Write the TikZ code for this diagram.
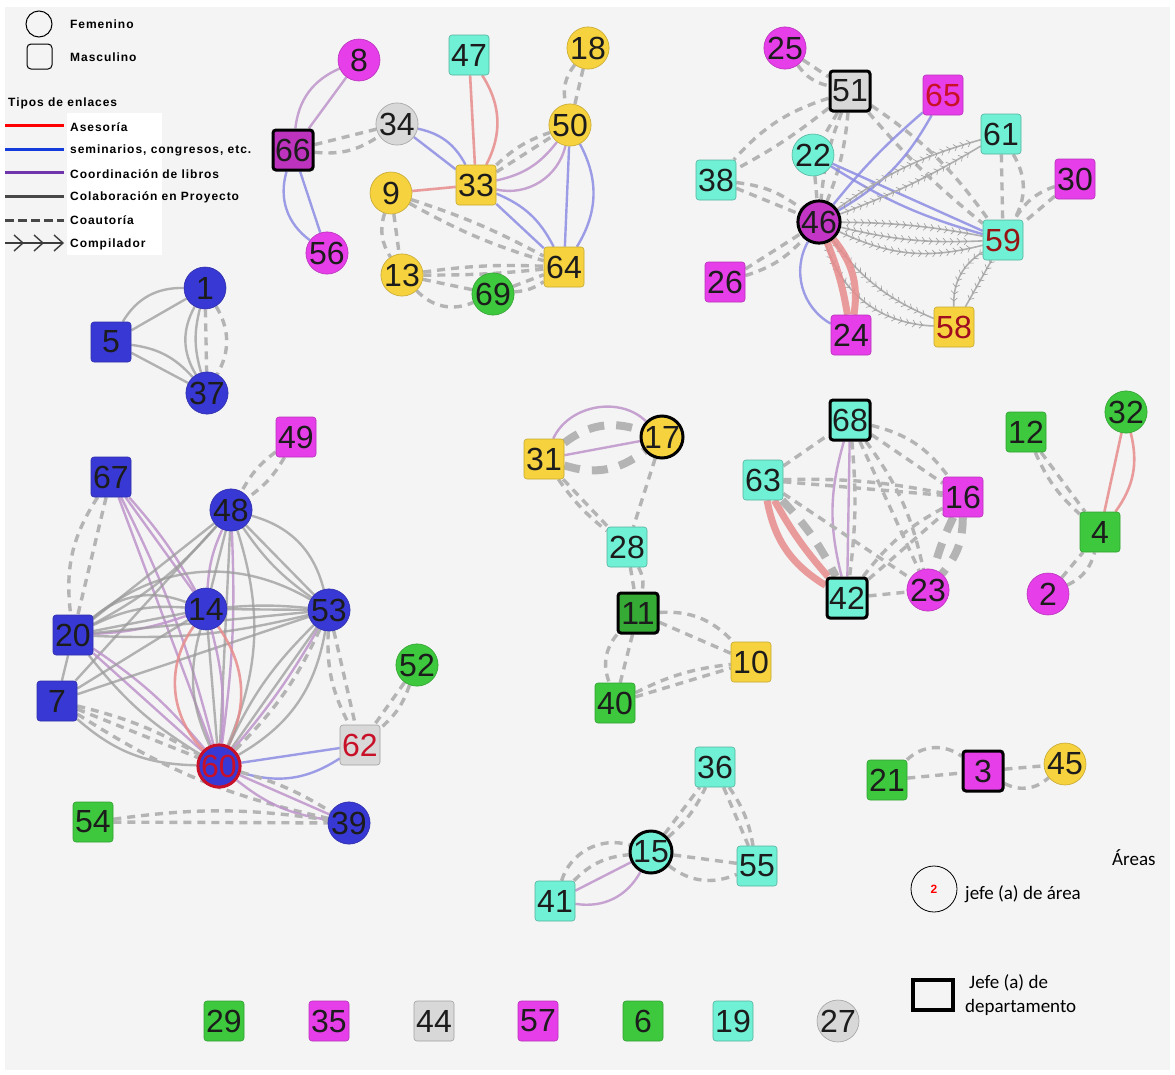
\documentclass[tikz,border=0pt]{standalone}
\usepackage{fontspec}
\usetikzlibrary{arrows.meta,decorations.markings,backgrounds}
\newfontfamily\numfont{Liberation Sans}
\newfontfamily\legfont{Liberation Sans}[LetterSpace=8]
\newfontfamily\calfont{Carlito}

\definecolor{bgc}{RGB}{244,244,244}
\definecolor{mag}{RGB}{230,62,232}
\definecolor{yel}{RGB}{246,210,62}
\definecolor{cyn}{RGB}{112,240,212}
\definecolor{blu}{RGB}{56,56,212}
\definecolor{grn}{RGB}{62,200,62}
\definecolor{lgr}{RGB}{216,216,216}
\definecolor{txt}{RGB}{28,28,28}
\definecolor{ecase}{RGB}{232,140,140}
\definecolor{ecsem}{RGB}{140,140,228}
\definecolor{eccoo}{RGB}{190,148,204}
\definecolor{eccol}{RGB}{155,155,155}
\definecolor{eccoa}{RGB}{180,180,180}
\definecolor{redtxt}{RGB}{200,16,40}
\definecolor{dredtxt}{RGB}{150,20,20}
\definecolor{lgblue}{RGB}{20,60,220}
\definecolor{lgpurple}{RGB}{112,52,172}
\definecolor{lggray}{RGB}{72,72,72}
\definecolor{lgdark}{RGB}{60,60,60}

\tikzset{
  x=1pt, y=-1pt,
  numf/.style={font=\numfont\fontsize{32}{32}\selectfont, text=txt},
  nf/.style={numf, circle, minimum size=42pt, inner sep=0pt, line width=0.6pt},
  nm/.style={numf, rectangle, rounded corners=3pt, minimum size=40pt, inner sep=0pt, line width=0.6pt},
  head/.style={draw=black, line width=3pt},
  cmag/.style={fill=mag, draw=mag!80!black},
  cyel/.style={fill=yel, draw=yel!80!black},
  ccyn/.style={fill=cyn, draw=cyn!75!black},
  cblu/.style={fill=blu, draw=blu!80!black},
  cgrn/.style={fill=grn, draw=grn!80!black},
  clgr/.style={fill=lgr, draw=lgr!75!black},
  ase/.style={draw=ecase, line width=2.6pt, opacity=0.85},
  asebig/.style={draw=ecase, line width=7pt, opacity=0.85},
  sem/.style={draw=ecsem, line width=2.4pt, opacity=0.85},
  coo/.style={draw=eccoo, line width=2.4pt, opacity=0.85},
  col/.style={draw=eccol, line width=2.4pt, opacity=0.75},
  coa/.style={draw=eccoa, line width=3.4pt, dash pattern=on 8pt off 6pt},
  coabig/.style={draw=eccoa, line width=8pt, dash pattern=on 16pt off 12pt},
  comp/.style={draw=eccol!80, line width=1.6pt, postaction={decorate},
    decoration={markings, mark=between positions 0.06 and 0.94 step 7pt with
      {\arrow[eccol, line width=0.6pt]{Straight Barb[length=3pt, width=7pt]}}}},
  legt/.style={anchor=west, inner sep=0pt, font=\legfont\bfseries\fontsize{12}{12}\selectfont, text=black},
  calt/.style={anchor=west, inner sep=0pt, font=\calfont\fontsize{19}{19}\selectfont, text=black},
}

\begin{document}
\begin{tikzpicture}
\useasboundingbox (0,0) rectangle (1175,1074);

% ---------------- nodes ----------------
% upper left group
\node[nf, cmag] (n8) at (359,60) {8};
\node[nm, fill=mag!82!black, head] (n66) at (293,150) {66};
\node[nf, clgr] (n34) at (397,124) {34};
\node[nm, ccyn] (n47) at (469,55) {47};
\node[nf, cyel] (n18) at (588,48) {18};
\node[nf, cyel] (n50) at (570,125) {50};
\node[nm, cyel] (n33) at (476,185) {33};
\node[nf, cyel] (n9) at (391,193) {9};
\node[nf, cmag] (n56) at (327,253) {56};
\node[nf, cyel] (n13) at (402,275) {13};
\node[nf, cgrn] (n69) at (493,294) {69};
\node[nm, cyel] (n64) at (564,267) {64};
% upper right group
\node[nf, cmag] (n25) at (785,48) {25};
\node[nm, clgr, head] (n51) at (850,91) {51};
\node[nm, cmag, text=redtxt] (n65) at (943,95) {65};
\node[nm, ccyn] (n61) at (1001,134) {61};
\node[nf, ccyn] (n22) at (813,155) {22};
\node[nm, ccyn] (n38) at (716,180) {38};
\node[nm, cmag] (n30) at (1075,179) {30};
\node[nf, fill=mag!85!black, head] (n46) at (819,222) {46};
\node[nm, ccyn, text=dredtxt] (n59) at (1003,240) {59};
\node[nm, cmag] (n26) at (725,282) {26};
\node[nm, cmag] (n24) at (851,335) {24};
\node[nm, cyel, text=redtxt!80!black] (n58) at (954,327) {58};
% small blue group
\node[nf, cblu] (n1) at (205,288) {1};
\node[nm, cblu] (n5) at (111,342) {5};
\node[nf, cblu] (n37) at (207,393) {37};
% lower left group
\node[nm, cmag] (n49) at (296,437) {49};
\node[nm, cblu] (n67) at (111,477) {67};
\node[nf, cblu] (n48) at (231,510) {48};
\node[nf, cblu] (n14) at (206,609) {14};
\node[nf, cblu] (n53) at (329,610) {53};
\node[nm, cblu] (n20) at (73,635) {20};
\node[nf, cgrn] (n52) at (417,665) {52};
\node[nm, cblu] (n7) at (57,701) {7};
\node[nm, clgr, text=redtxt] (n62) at (360,745) {62};
\node[nf, fill=blu, draw=redtxt, line width=3pt, text=redtxt] (n60) at (219,766) {60};
\node[nm, cgrn] (n54) at (93,822) {54};
\node[nf, cblu] (n39) at (349,823) {39};
% middle group
\node[nm, cyel] (n31) at (544,459) {31};
\node[nf, cyel, head] (n17) at (662,437) {17};
\node[nm, ccyn] (n28) at (627,547) {28};
\node[nm, fill=grn!85!black, head] (n11) at (638,613) {11};
\node[nm, cyel] (n10) at (751,662) {10};
\node[nm, cgrn] (n40) at (615,703) {40};
% right middle group
\node[nm, ccyn, head] (n68) at (850,420) {68};
\node[nm, ccyn] (n63) at (763,480) {63};
\node[nm, cmag] (n16) at (963,497) {16};
\node[nm, ccyn, head] (n42) at (847,598) {42};
\node[nf, cmag] (n23) at (928,590) {23};
\node[nm, cgrn] (n12) at (1026,432) {12};
\node[nf, cgrn] (n32) at (1126,412) {32};
\node[nm, cgrn] (n4) at (1100,532) {4};
\node[nf, cmag] (n2) at (1048,594) {2};
% bottom groups
\node[nm, ccyn] (n36) at (715,767) {36};
\node[nf, ccyn, head] (n15) at (651,852) {15};
\node[nm, ccyn] (n55) at (757,866) {55};
\node[nm, ccyn] (n41) at (555,901) {41};
\node[nm, cgrn] (n21) at (887,780) {21};
\node[nm, cmag, head] (n3) at (983,771) {3};
\node[nf, cyel] (n45) at (1065,764) {45};
% isolated
\node[nm, cgrn] (n29) at (224,1021) {29};
\node[nm, cmag] (n35) at (329,1021) {35};
\node[nm, clgr] (n44) at (434,1021) {44};
\node[nm, cmag] (n57) at (538,1021) {57};
\node[nm, cgrn] (n6) at (643,1021) {6};
\node[nm, ccyn] (n19) at (733,1021) {19};
\node[nf, clgr] (n27) at (838,1021) {27};

% ---------------- canvas and links (behind the nodes) ----------------
\begin{scope}[on background layer]
\fill[white] (0,0) rectangle (1175,1074);
\fill[bgc] (5,7) rectangle (1170,1070);
% upper left group
\draw[coo] (n8) to[bend right=30] (n66);
\draw[coo] (n8) -- (n66);
\draw[sem] (n66) to[bend right=35] (n56);
\draw[sem] (n66) -- (n56);
\draw[coa] (n66) -- (n34);
\draw[coa] (n66) to[bend right=20] (n34);
\draw[sem] (n34) to[bend left=25] (n33);
\draw[sem] (n34) -- (n33);
\draw[ase] (n47) -- (n33);
\draw[ase] (n47) to[bend left=30] (n33);
\draw[ase] (n9) -- (n33);
\draw[coa] (n33) to[bend left=12] (n50);
\draw[coa] (n33) -- (n50);
\draw[coo] (n33) to[bend right=20] (n50);
\draw[coo] (n33) to[bend right=45] (n50);
\draw[sem] (n33) -- (n64);
\draw[sem] (n33) to[bend left=20] (n64);
\draw[sem] (n50) -- (n64);
\draw[sem] (n50) to[bend left=30] (n64);
\draw[coa] (n18) to[bend right=25] (n50);
\draw[coa] (n18) -- (n50);
\draw[coa] (n9) to[bend left=5] (n64);
\draw[coa] (n9) to[bend right=6] (n64);
\draw[coa] (n9) to[bend right=25] (n13);
\draw[coa] (n9) -- (n13);
\draw[coa] (n13) to[bend left=5] (n64);
\draw[coa] (n13) to[bend right=3] (n64);
\draw[coa] (n13) -- (n69);
\draw[coa] (n13) to[bend right=35] (n69);
\draw[coa] (n69) -- (n64);
\draw[coa] (n69) to[bend right=15] (n64);
% upper right group
\draw[coa] (n25) -- (n51);
\draw[coa] (n25) to[bend right=20] (n51);
\draw[coa] (n51) to[bend right=15] (n38);
\draw[coa] (n51) to[bend left=5] (n38);
\draw[coa] (n51) to[bend left=8] (n46);
\draw[coa] (n51) to[bend right=8] (n46);
\draw[coa] (n51) to[bend left=10] (n59);
\draw[coa] (n51) to[bend right=5] (n59);
\draw[coa] (n51) -- (n22);
\draw[coa] (n38) -- (n46);
\draw[coa] (n38) to[bend left=15] (n46);
\draw[coa] (n26) -- (n46);
\draw[coa] (n26) to[bend right=15] (n46);
\draw[coa] (n22) -- (n46);
\draw[sem] (n22) -- (n59);
\draw[sem] (n22) to[bend right=8] (n59);
\draw[sem] (n46) to[bend left=5] (n65);
\draw[sem] (n46) to[bend right=15] (n65);
\draw[coa] (n61) -- (n59);
\draw[coa] (n61) to[bend left=30] (n59);
\draw[coa] (n30) -- (n59);
\draw[coa] (n30) to[bend right=20] (n59);
\draw[comp] (n46) to[bend left=10] (n61);
\draw[comp] (n46) to[bend right=5] (n61);
\draw[comp] (n46) to[bend left=5] (n59);
\draw[comp] (n46) to[bend right=8] (n59);
\draw[comp] (n46) to[bend right=20] (n59);
\draw[comp] (n46) to[bend right=15] (n58);
\draw[comp] (n46) to[bend right=35] (n58);
\draw[comp] (n59) -- (n58);
\draw[comp] (n59) to[bend right=30] (n58);
\draw[asebig] (n46) to[bend left=6] (n24);
\draw[asebig] (n46) to[bend left=24] (n24);
\draw[sem] (n46) to[bend right=45] (n24);
% small blue group
\draw[col] (n5) -- (n1);
\draw[col] (n5) to[bend left=30] (n1);
\draw[col] (n5) -- (n37);
\draw[col] (n5) to[bend left=20] (n37);
\draw[col] (n1) to[bend right=30] (n37);
\draw[col] (n1) to[bend right=15] (n37);
\draw[coa] (n1) -- (n37);
\draw[coa] (n1) to[bend left=30] (n37);
% lower left group
\draw[coa] (n49) to[bend left=12] (n48);
\draw[coa] (n49) to[bend right=12] (n48);
\draw[coa] (n67) to[bend right=20] (n20);
\draw[coa] (n67) -- (n20);
\draw[coo] (n67) -- (n14);
\draw[coo] (n67) to[bend left=6] (n14);
\draw[coo] (n67) -- (n60);
\draw[coo] (n67) to[bend left=6] (n60);
\draw[col] (n48) -- (n20);
\draw[col] (n48) to[bend left=10] (n20);
\draw[col] (n48) -- (n7);
\draw[col] (n48) -- (n14);
\draw[coo] (n48) to[bend right=10] (n14);
\draw[col] (n48) -- (n53);
\draw[col] (n48) to[bend left=30] (n53);
\draw[col] (n48) to[bend right=10] (n53);
\draw[col] (n48) -- (n60);
\draw[coo] (n48) to[bend left=5] (n60);
\draw[col] (n48) to[bend left=20] (n60);
\draw[col] (n20) -- (n14);
\draw[col] (n20) to[bend left=30] (n14);
\draw[col] (n20) to[bend left=15] (n14);
\draw[coo] (n20) to[bend right=8] (n14);
\draw[col] (n20) -- (n53);
\draw[col] (n20) to[bend right=8] (n53);
\draw[col] (n20) to[bend left=35] (n53);
\draw[coo] (n20) -- (n60);
\draw[coo] (n20) to[bend left=8] (n60);
\draw[col] (n20) to[bend right=10] (n60);
\draw[col] (n20) -- (n7);
\draw[col] (n7) -- (n14);
\draw[col] (n7) -- (n53);
\draw[col] (n7) to[bend right=20] (n60);
\draw[coa] (n7) -- (n60);
\draw[coa] (n7) to[bend left=8] (n60);
\draw[coa] (n7) to[bend right=10] (n39);
\draw[col] (n14) -- (n53);
\draw[col] (n14) to[bend left=5] (n53);
\draw[ase] (n14) to[bend right=40] (n60);
\draw[ase] (n14) to[bend left=30] (n60);
\draw[col] (n14) -- (n60);
\draw[col] (n14) to[bend right=20] (n60);
\draw[coo] (n14) to[bend left=10] (n60);
\draw[col] (n53) -- (n60);
\draw[col] (n53) to[bend left=25] (n60);
\draw[col] (n53) to[bend right=10] (n60);
\draw[coo] (n53) to[bend left=5] (n60);
\draw[coa] (n53) to[bend left=10] (n60);
\draw[coa] (n53) -- (n62);
\draw[coa] (n53) to[bend right=15] (n62);
\draw[coa] (n52) -- (n62);
\draw[coa] (n52) to[bend left=15] (n62);
\draw[sem] (n60) -- (n62);
\draw[sem] (n60) to[bend right=25] (n62);
\draw[coo] (n60) -- (n39);
\draw[coo] (n60) to[bend right=15] (n39);
\draw[coa] (n60) to[bend left=8] (n39);
\draw[coa] (n54) -- (n39);
\draw[coa] (n54) to[bend left=8] (n39);
% middle group
\draw[coo] (n31) to[bend left=55] (n17);
\draw[coo] (n31) -- (n17);
\draw[coabig] (n31) to[bend left=28] (n17);
\draw[coabig] (n31) to[bend right=28] (n17);
\draw[coa] (n31) -- (n28);
\draw[coa] (n31) to[bend right=8] (n28);
\draw[coa] (n17) -- (n28);
\draw[coa] (n28) -- (n11);
\draw[coa] (n28) to[bend left=20] (n11);
\draw[coa] (n11) -- (n10);
\draw[coa] (n11) to[bend left=25] (n10);
\draw[coa] (n11) -- (n40);
\draw[coa] (n11) to[bend right=30] (n40);
\draw[coa] (n40) -- (n10);
\draw[coa] (n40) to[bend left=10] (n10);
% right middle group
\draw[asebig] (n63) to[bend right=6] (n42);
\draw[asebig] (n63) to[bend right=24] (n42);
\draw[coo] (n68) -- (n42);
\draw[coo] (n68) to[bend right=15] (n42);
\draw[coabig] (n63) to[bend left=8] (n42);
\draw[coa] (n63) -- (n68);
\draw[coa] (n63) -- (n16);
\draw[coa] (n63) to[bend left=6] (n16);
\draw[coa] (n63) -- (n23);
\draw[coa] (n68) -- (n16);
\draw[coa] (n68) to[bend left=20] (n16);
\draw[coa] (n68) -- (n23);
\draw[coa] (n68) to[bend left=12] (n23);
\draw[coa] (n68) to[bend left=6] (n42);
\draw[coa] (n42) -- (n16);
\draw[coa] (n42) to[bend left=12] (n16);
\draw[coa] (n42) -- (n23);
\draw[coabig] (n16) to[bend left=20] (n23);
\draw[coabig] (n16) to[bend right=5] (n23);
\draw[coa] (n12) -- (n4);
\draw[coa] (n12) to[bend right=12] (n4);
\draw[ase] (n32) -- (n4);
\draw[ase] (n32) to[bend left=25] (n4);
\draw[coa] (n2) -- (n4);
\draw[coa] (n2) to[bend right=25] (n4);
% bottom groups
\draw[coo] (n41) -- (n15);
\draw[coo] (n41) to[bend right=35] (n15);
\draw[coa] (n41) to[bend left=20] (n15);
\draw[coa] (n41) to[bend left=45] (n15);
\draw[coa] (n15) -- (n36);
\draw[coa] (n15) to[bend right=12] (n36);
\draw[coa] (n15) -- (n55);
\draw[coa] (n15) to[bend right=30] (n55);
\draw[coa] (n36) -- (n55);
\draw[coa] (n36) to[bend left=12] (n55);
\draw[coa] (n21) -- (n3);
\draw[coa] (n21) to[bend left=40] (n3);
\draw[coa] (n3) -- (n45);
\draw[coa] (n3) to[bend right=35] (n45);
\end{scope}

% ---------------- legend (top left) ----------------
\fill[white] (67,113) rectangle (162,255);
\draw[line width=1pt] (39,24) circle (13);
\draw[line width=1pt, rounded corners=4pt] (27,44) rectangle (52,69);
\node[legt] (lfem) at (70,24) {Femenino};
\node[legt] (lmas) at (70,57) {Masculino};
\node[legt] (ltip) at (8,103) {Tipos de enlaces};
\draw[red, line width=3pt] (5,125) -- (64,125);
\draw[lgblue, line width=3pt] (5,149) -- (64,149);
\draw[lgpurple, line width=3pt] (5,172) -- (64,172);
\draw[lggray, line width=3pt] (5,196) -- (64,196);
\draw[lggray, line width=3pt, dash pattern=on 9pt off 4pt] (5,220) -- (64,220);
\draw[lgdark, line width=1.4pt] (5,243) -- (63,243);
\foreach \ax in {23,43,63}
  \draw[lgdark, line width=1.4pt] (\ax-9,235) -- (\ax,243) -- (\ax-9,251);
\node[legt] (l1) at (70,127) {Asesoría};
\node[legt] (l2) at (70,150) {seminarios, congresos, etc.};
\node[legt] (l3) at (70,174) {Coordinación de libros};
\node[legt] (l4) at (70,197) {Colaboración en Proyecto};
\node[legt] (l5) at (70,220) {Coautoría};
\node[legt] (l6) at (70,244) {Compilador};

% ---------------- legend (bottom right) ----------------
\node[calt] (lar) at (1112,858) {Áreas};
\draw[line width=0.8pt] (934,889) circle (23);
\node[text=red, font=\numfont\bfseries\fontsize{12}{12}\selectfont] (lz) at (934,889) {2};
\node[calt] (ljef) at (965,894) {jefe (a) de área};
\draw[line width=3.5pt] (913,980) rectangle (953,1010);
\node[calt] (ljd1) at (969,983) {Jefe (a) de};
\node[calt] (ljd2) at (965,1007) {departamento};
\end{tikzpicture}
\end{document}
